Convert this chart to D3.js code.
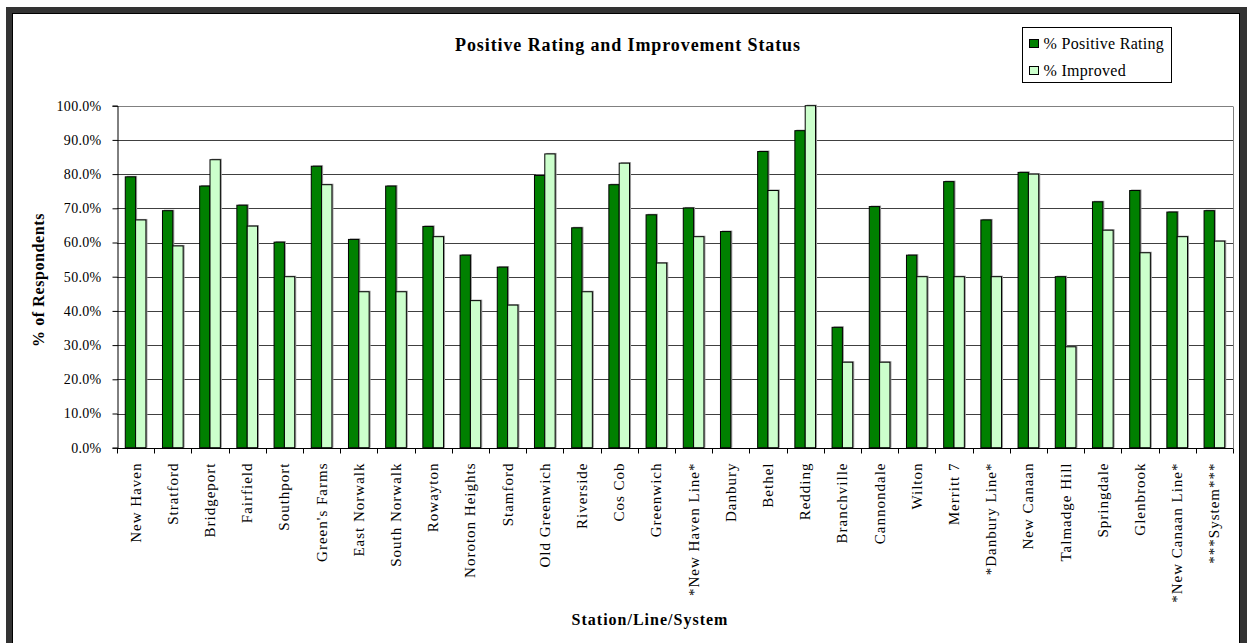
<!DOCTYPE html>
<html>
<head>
<meta charset="utf-8">
<script src="https://cdn.jsdelivr.net/npm/d3@7"></script>
<style>
  html, body { margin: 0; padding: 0; background: #fff; }
  svg { display: block; }
  text { font-family: "Liberation Serif", "Times New Roman", serif; fill: #000; }
</style>
</head>
<body>
<svg id="chart" width="1247" height="643"></svg>
<script>
// Station / line / system categories
const categories = [
  "New Haven", "Stratford", "Bridgeport", "Fairfield", "Southport",
  "Green's Farms", "East Norwalk", "South Norwalk", "Rowayton", "Noroton Heights",
  "Stamford", "Old Greenwich", "Riverside", "Cos Cob", "Greenwich",
  "*New Haven Line*", "Danbury", "Bethel", "Redding", "Branchville",
  "Cannondale", "Wilton", "Merritt 7", "*Danbury Line*", "New Canaan",
  "Talmadge Hill", "Springdale", "Glenbrook", "*New Canaan Line*", "***System***"
];

// Percent of respondents giving a positive rating
const positiveRating = [
  79.2, 69.3, 76.5, 70.9, 60.1,
  82.3, 60.9, 76.5, 64.7, 56.3,
  52.8, 79.6, 64.3, 76.9, 68.1,
  70.1, 63.2, 86.6, 92.7, 35.2,
  70.5, 56.3, 77.8, 66.6, 80.5,
  50.0, 71.9, 75.2, 68.9, 69.3
];

// Percent of respondents reporting improvement (no value for Danbury)
const improved = [
  66.6, 59.0, 84.2, 64.8, 50.0,
  76.9, 45.6, 45.6, 61.7, 43.0,
  41.7, 85.9, 45.6, 83.2, 54.0,
  61.7, null, 75.2, 100.0, 25.0,
  25.0, 50.0, 50.0, 50.0, 80.0,
  29.5, 63.6, 57.0, 61.7, 60.4
];

const seriesNames = ["% Positive Rating", "% Improved"];
const seriesColors = ["#008000", "#CCFFCC"];
const yTicks = [0, 10, 20, 30, 40, 50, 60, 70, 80, 90, 100];

const FONT = '"Liberation Serif", "Times New Roman", serif';
const svg = d3.select("#chart");
const W = 1247, H = 643;

// Outer frame: dark band with a white panel inside
svg.append("rect").attr("x", 6).attr("y", 7).attr("width", W - 6).attr("height", H)
  .attr("fill", "#333");
svg.append("rect").attr("x", 12.5).attr("y", 13.5).attr("width", 1227).attr("height", H)
  .attr("fill", "#fff").attr("stroke", "#000").attr("stroke-width", 1);

const plot = { left: 117, right: 1233, top: 105.7, bottom: 447.7 };

const x = d3.scaleBand().domain(categories).range([plot.left, plot.right]).padding(0);
const x1 = d3.scaleBand().domain(seriesNames).range([0, x.bandwidth()])
  .paddingInner(0).paddingOuter(0.8);
const y = d3.scaleLinear().domain([0, 100]).range([plot.bottom, plot.top]);

const crisp = v => Math.round(v) + 0.5;

// Horizontal gridlines
svg.append("g").selectAll("line").data(yTicks.slice(1)).join("line")
  .attr("x1", plot.left).attr("x2", plot.right)
  .attr("y1", d => crisp(y(d))).attr("y2", d => crisp(y(d)))
  .attr("stroke", d => d === 100 ? "#808080" : "#404040").attr("stroke-width", 1);

// Plot-area right border
svg.append("line")
  .attr("x1", crisp(plot.right)).attr("x2", crisp(plot.right))
  .attr("y1", crisp(y(100))).attr("y2", crisp(y(0)))
  .attr("stroke", "#808080");

// Bars
const rows = categories.map((c, i) => ({ cat: c, vals: [positiveRating[i], improved[i]] }));
const groups = svg.append("g").selectAll("g").data(rows).join("g")
  .attr("transform", d => `translate(${x(d.cat)},0)`);

const barData = d => d.vals.map((v, k) => ({ name: seriesNames[k], v, k })).filter(b => b.v != null);

// soft shadow behind each bar
groups.selectAll("rect.shadow").data(barData).join("rect")
  .attr("class", "shadow")
  .attr("x", b => x1(b.name) + 1.5).attr("y", b => y(b.v) - 1)
  .attr("width", x1.bandwidth()).attr("height", b => y(0) - y(b.v) + 1)
  .attr("fill", "#9a9a9a");

groups.selectAll("rect.bar").data(barData).join("rect")
  .attr("class", "bar")
  .attr("x", b => x1(b.name)).attr("y", b => y(b.v))
  .attr("width", x1.bandwidth()).attr("height", b => y(0) - y(b.v))
  .attr("fill", b => seriesColors[b.k])
  .attr("stroke", "#000").attr("stroke-width", 1);

// Y axis
const yAxis = svg.append("g").attr("transform", `translate(${crisp(plot.left)},0)`)
  .call(d3.axisLeft(y).tickValues(yTicks).tickSize(5).tickPadding(11)
    .tickFormat(d => d3.format(".1f")(d) + "%"));
yAxis.attr("font-family", FONT).attr("font-size", 14);
yAxis.select(".domain").attr("stroke", "#000");
yAxis.selectAll(".tick line").attr("stroke", "#000");
yAxis.selectAll(".tick text").attr("font-size", 14).attr("letter-spacing", 0.3);

// X axis: baseline, ticks between categories, rotated labels
const xAxis = svg.append("g").attr("transform", `translate(0,${crisp(plot.bottom)})`)
  .call(d3.axisBottom(x).tickSize(0).tickPadding(14));
xAxis.attr("font-family", FONT).attr("font-size", 15);
xAxis.select(".domain").attr("stroke", "#000").attr("d", `M${plot.left},0H${plot.right}`);
xAxis.selectAll(".tick text")
  .attr("transform", "rotate(-90)")
  .attr("text-anchor", "end")
  .attr("x", -14).attr("y", 0).attr("dy", "0.33em")
  .attr("font-size", 15).attr("letter-spacing", 1);

const boundaries = categories.map(c => x(c)).concat([plot.right]);
svg.append("g").selectAll("line").data(boundaries).join("line")
  .attr("x1", d => crisp(d)).attr("x2", d => crisp(d))
  .attr("y1", crisp(plot.bottom)).attr("y2", crisp(plot.bottom) + 5)
  .attr("stroke", "#000");

// Title
svg.append("text").attr("x", 628).attr("y", 51)
  .attr("font-family", FONT)
  .attr("text-anchor", "middle").attr("font-size", 18).attr("font-weight", "bold")
  .attr("letter-spacing", 0.9)
  .text("Positive Rating and Improvement Status");

// Axis titles
svg.append("text")
  .attr("font-family", FONT)
  .attr("transform", `translate(44,280) rotate(-90)`)
  .attr("text-anchor", "middle").attr("font-size", 16).attr("font-weight", "bold")
  .attr("letter-spacing", 0.6)
  .text("% of Respondents");

svg.append("text").attr("x", 650).attr("y", 625)
  .attr("font-family", FONT)
  .attr("text-anchor", "middle").attr("font-size", 16).attr("font-weight", "bold")
  .attr("letter-spacing", 1)
  .text("Station/Line/System");

// Legend
const legend = svg.append("g").attr("transform", "translate(1022.5,27.5)");
legend.append("rect").attr("width", 149).attr("height", 55)
  .attr("fill", "#fff").attr("stroke", "#000");
seriesNames.forEach((name, i) => {
  const row = legend.append("g").attr("transform", `translate(7,${12 + i * 27})`);
  row.append("rect").attr("width", 9).attr("height", 8)
    .attr("fill", seriesColors[i]).attr("stroke", "#000");
  row.append("text").attr("x", 14).attr("y", 4).attr("dy", "0.35em")
    .attr("font-family", FONT)
    .attr("font-size", 16).attr("letter-spacing", 0.3).text(name);
});
</script>
</body>
</html>
